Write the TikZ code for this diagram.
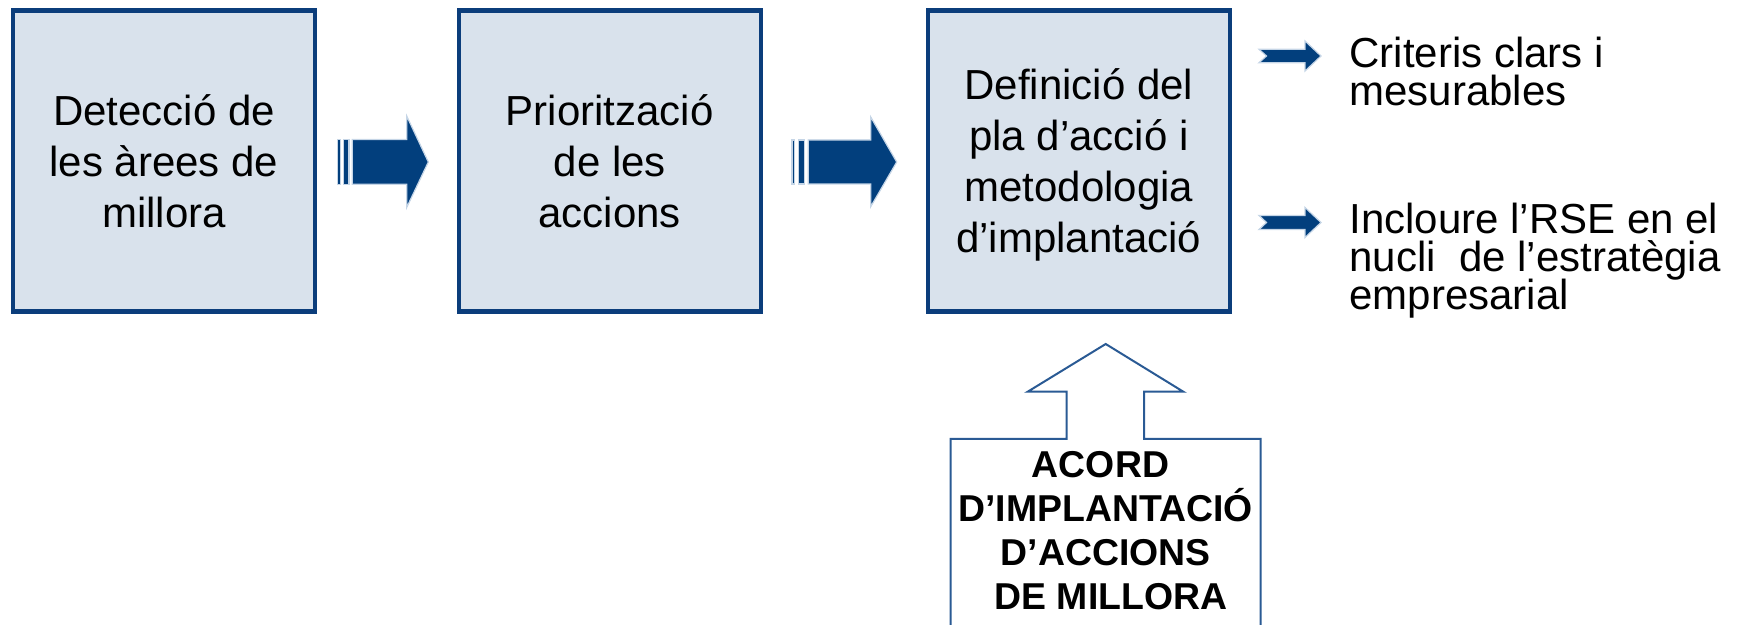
\documentclass[tikz,border=0pt]{standalone}
\usepackage{fontspec}
\setmainfont{Liberation Sans}
\definecolor{boxedge}{HTML}{0B3D7B}
\definecolor{boxfill}{HTML}{D9E2EC}
\definecolor{arrowfill}{HTML}{023F7D}
\definecolor{arrowglow}{HTML}{C5D5E6}
\definecolor{calloutedge}{HTML}{2A5A94}
\setlength{\lineskiplimit}{-20pt}
\begin{document}
\begin{tikzpicture}[x=0.5pt,y=-0.5pt,
  stagebox/.style={draw=boxedge, fill=boxfill, line width=2.25pt,
    minimum width=151pt, minimum height=150.6pt, inner sep=0pt,
    align=center, font=\fontsize{21}{25.5}\selectfont},
  stagetext/.style={inner sep=0pt, align=center, font=\fontsize{21}{25.5}\selectfont},
  bigarrow/.style={fill=arrowfill, draw=arrowglow, line width=0.6pt, line join=miter},
  sidetext/.style={anchor=north west, inner sep=0pt, align=left,
    font=\fontsize{21}{18.9}\selectfont},
  calloutline/.style={draw=calloutedge, line width=1pt, line join=miter},
  callouttext/.style={inner sep=0pt, align=center,
    font=\fontsize{18.7}{22}\selectfont\bfseries}]
\useasboundingbox (0,0) rectangle (1740,625);

% stage boxes
\node[stagebox] (s1) at (164,161) {Detecció de\\les àrees de\\millora};
\node[stagebox] (s2) at (609.8,161) {Priorització\\de les\\accions};
\node[stagebox] (s3) at (1078.8,161) {};
\node[stagetext] (s3t) at ([yshift=-2pt]s3.center) {Definició del\\pla d’acció i\\metodologia\\d’implantació};

% striped block arrow 1
\path[bigarrow] (337.3,139.5) rectangle (340.5,184.3);
\path[bigarrow] (343.3,139.5) rectangle (349,184.3);
\path[bigarrow] (352.3,139.5) -- (406.7,139.5) -- (406.7,116) -- (428.3,162)
  -- (406.7,207.5) -- (406.7,184.3) -- (352.3,184.3) -- cycle;

% striped block arrow 2
\path[bigarrow] (792,140) rectangle (794.7,184);
\path[bigarrow] (798.3,140) rectangle (804.3,184);
\path[bigarrow] (808.3,140) -- (870.7,140) -- (870.7,117) -- (896.7,162)
  -- (870.7,206.7) -- (870.7,184) -- (808.3,184) -- cycle;

% notched arrows
\path[bigarrow] (1259,49.3) -- (1305,49.3) -- (1305,41) -- (1321,56) -- (1305,71)
  -- (1305,62.7) -- (1259,62.7) -- (1266.5,56) -- cycle;
\path[bigarrow] (1259,215.5) -- (1305,215.5) -- (1305,207.5) -- (1321,222.5) -- (1305,237.5)
  -- (1305,229.5) -- (1259,229.5) -- (1266.5,222.5) -- cycle;

% side texts
\node[sidetext] (c1) at (1349,37) {Criteris clars i\\mesurables};
\node[sidetext] (c2) at (1349,203) {Incloure l’RSE en el\\nucli~ de l’estratègia\\empresarial};

% up-arrow callout
\draw[calloutline] (950.7,626) -- (950.7,439) -- (1066.7,439) -- (1066.7,391.7)
  -- (1027.7,391.7) -- (1105.7,344) -- (1183.3,391.7) -- (1144,391.7)
  -- (1144,439) -- (1260.7,439) -- (1260.7,626);
\node[callouttext] (acord) at (1105.7,530.6)
  {\mbox{ACORD\ }\\D’IMPLANTACIÓ\\D’ACCIONS\\\mbox{\ DE MILLORA}};
\end{tikzpicture}
\end{document}
